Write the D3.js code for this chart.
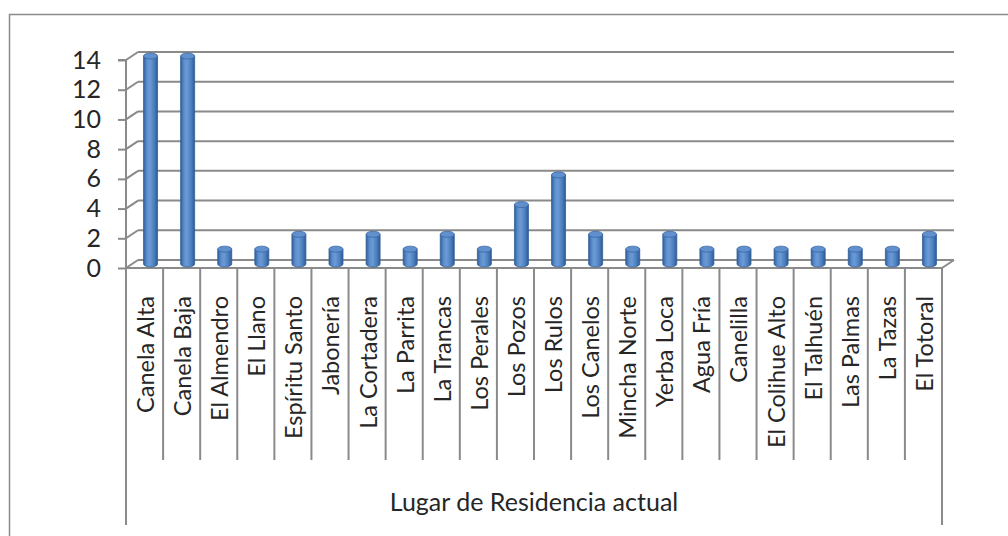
<!DOCTYPE html>
<html>
<head>
<meta charset="utf-8">
<script src="https://cdn.jsdelivr.net/npm/d3@7"></script>
<style>
  html, body { margin: 0; padding: 0; background: #fff; }
  svg { display: block; }
  text { font-family: Lato, "Open Sans", sans-serif; fill: #262626; }
</style>
</head>
<body>
<svg id="chart" width="1008" height="536"></svg>
<script>
const categories = ["Canela Alta","Canela Baja","El Almendro","El Llano","Espíritu Santo","Jabonería","La Cortadera","La Parrita","La Trancas","Los Perales","Los Pozos","Los Rulos","Los Canelos","Mincha Norte","Yerba Loca","Agua Fría","Canelilla","El Colihue Alto","El Talhuén","Las Palmas","La Tazas","El Totoral"];
const values = [14,14,1,1,2,1,2,1,2,1,4,6,2,1,2,1,1,1,1,1,1,2];
const yTicks = [0,2,4,6,8,10,12,14];
const axisTitle = "Lugar de Residencia actual";

const svg = d3.select("#chart");
const plotLeft = 126, plotRight = 942, plotTop = 60, floorY = 268;
const depthX = 12, depthY = -8;
const gridColor = "#8a8a8a";

// outer border (extends beyond image at right/bottom)
svg.append("rect").attr("x", 9.5).attr("y", 14.5).attr("width", 1010).attr("height", 540)
  .attr("fill", "none").attr("stroke", "#8a8a8a").attr("stroke-width", 1.5);

const x = d3.scaleBand().domain(categories).range([plotLeft, plotRight]).paddingInner(0).paddingOuter(0);
const y = d3.scaleLinear().domain([0, 14]).range([floorY, plotTop]);

const defs = svg.append("defs");
const grad = defs.append("linearGradient").attr("id", "cyl").attr("x1", "0").attr("x2", "1").attr("y1", "0").attr("y2", "0");
[["0%", "#30609c"], ["25%", "#5d8fce"], ["45%", "#6b9ad6"], ["75%", "#4c7fbe"], ["100%", "#2e5a94"]].forEach(([o, c]) =>
  grad.append("stop").attr("offset", o).attr("stop-color", c));

// back wall gridlines
const g = svg.append("g");
yTicks.forEach(t => {
  if (t > 0) {
    g.append("line").attr("x1", plotLeft + depthX).attr("x2", plotRight + depthX)
      .attr("y1", y(t) + depthY).attr("y2", y(t) + depthY)
      .attr("stroke", gridColor).attr("stroke-width", 2);
  }
  g.append("line").attr("x1", plotLeft).attr("y1", y(t)).attr("x2", plotLeft + depthX).attr("y2", y(t) + depthY)
    .attr("stroke", gridColor).attr("stroke-width", 2);
});

// floor
g.append("line").attr("x1", plotLeft + depthX).attr("x2", plotRight + depthX).attr("y1", floorY + depthY).attr("y2", floorY + depthY)
  .attr("stroke", gridColor).attr("stroke-width", 2);
g.append("line").attr("x1", plotLeft).attr("x2", plotRight).attr("y1", floorY).attr("y2", floorY)
  .attr("stroke", gridColor).attr("stroke-width", 2);
g.append("line").attr("x1", plotRight).attr("y1", floorY).attr("x2", plotRight + depthX).attr("y2", floorY + depthY)
  .attr("stroke", gridColor).attr("stroke-width", 2);

// y axis
const yAxis = d3.axisLeft(y).tickValues(yTicks).tickSize(8).tickPadding(17);
const ya = svg.append("g").attr("transform", `translate(${plotLeft},0)`).call(yAxis);
ya.select(".domain").attr("stroke", gridColor).attr("stroke-width", 2).attr("d", `M-8,${plotTop}H0V${floorY}`);
ya.selectAll(".tick line").attr("stroke", gridColor).attr("stroke-width", 2);
ya.selectAll(".tick text").attr("font-size", 25).attr("fill", "#262626").attr("font-family", "Lato, sans-serif");

// category dividers
const bounds = categories.map(c => x(c)).concat([plotRight]);
bounds.forEach((bx, i) => {
  const end = (i === 0 || i === bounds.length - 1) ? 525 : 460;
  svg.append("line").attr("x1", bx).attr("x2", bx).attr("y1", floorY).attr("y2", end)
    .attr("stroke", gridColor).attr("stroke-width", 2);
});

// bars (cylinders)
const bw = 14, ry = 3;
const bars = svg.append("g");
categories.forEach((c, i) => {
  const cx = x(c) + x.bandwidth() / 2 + depthX / 2;
  const base = y(0) + depthY / 2;
  const topY = y(values[i]) + depthY / 2;
  const gg = bars.append("g");
  gg.append("path")
    .attr("d", `M${cx - bw/2},${topY} L${cx - bw/2},${base} A${bw/2},${ry} 0 0 0 ${cx + bw/2},${base} L${cx + bw/2},${topY} Z`)
    .attr("fill", "url(#cyl)").attr("stroke", "#345f98").attr("stroke-width", 0.8);
  gg.append("ellipse").attr("cx", cx).attr("cy", topY).attr("rx", bw/2).attr("ry", ry)
    .attr("fill", "#6090cd").attr("stroke", "#3a67a3").attr("stroke-width", 0.8);
});

// category labels
const labels = svg.append("g");
categories.forEach(c => {
  const cx = x(c) + x.bandwidth() / 2;
  labels.append("text")
    .attr("transform", `translate(${cx + 1},296) rotate(-90)`)
    .attr("text-anchor", "end").attr("dy", "0.36em")
    .attr("font-size", 23.5).text(c);
});

// axis title
svg.append("text").attr("x", (plotLeft + plotRight) / 2).attr("y", 511)
  .attr("text-anchor", "middle").attr("font-size", 25).text(axisTitle);
</script>
</body>
</html>
